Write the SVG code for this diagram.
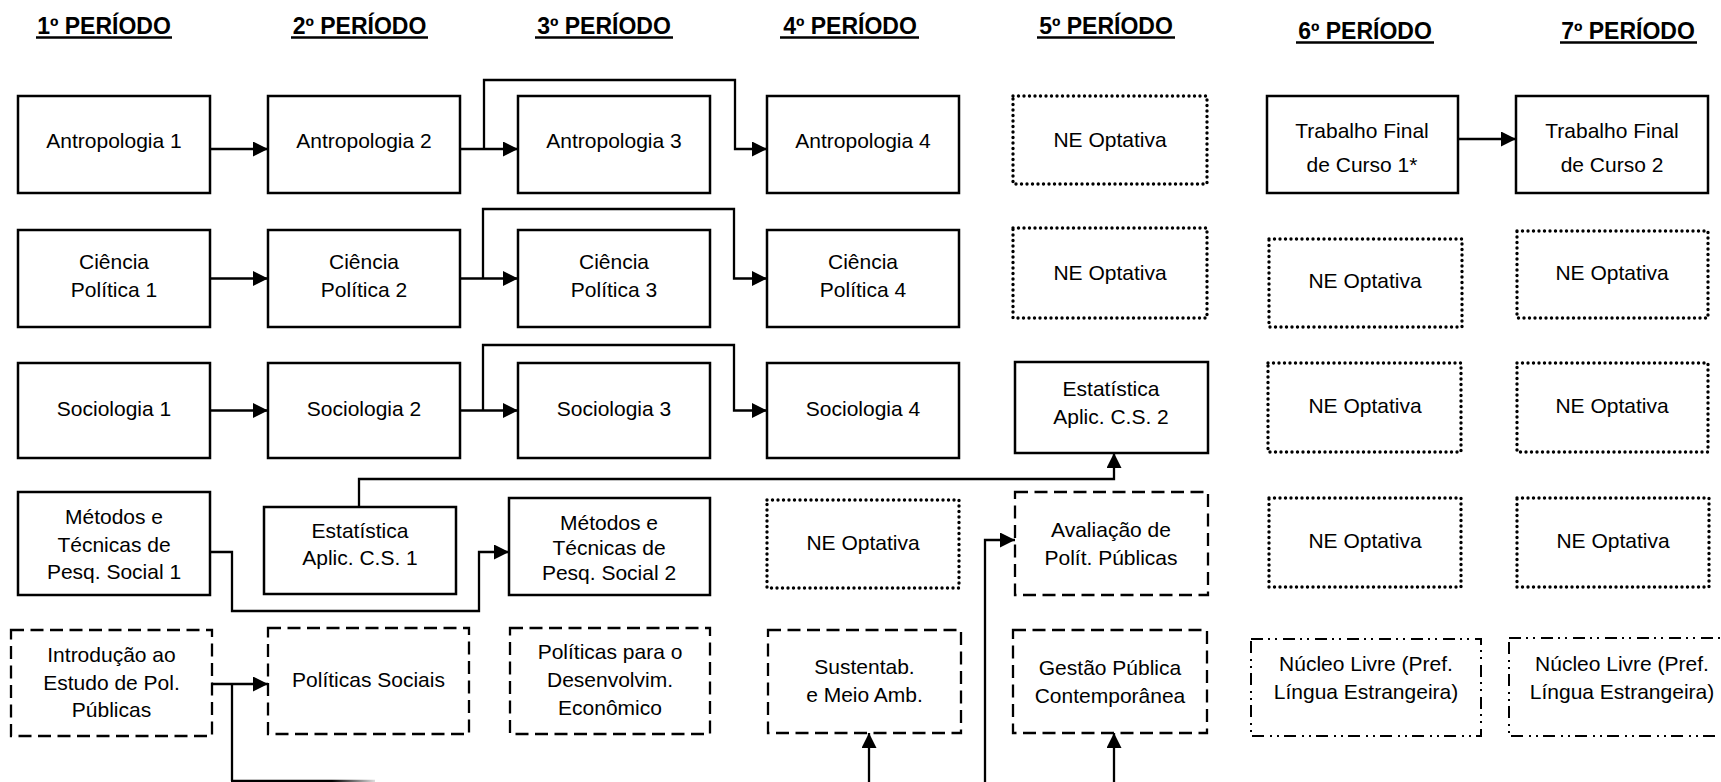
<svg xmlns="http://www.w3.org/2000/svg" width="1721" height="782" viewBox="0 0 1721 782">
<style>
  .box { fill: #fff; stroke: #000; stroke-width: 2.5; }
  .dot { fill: #fff; stroke: #000; stroke-width: 3.4; stroke-dasharray: 0 5.5; stroke-linecap: round; }
  .dash { fill: #fff; stroke: #000; stroke-width: 2.3; stroke-dasharray: 13 6.5; }
  .dd { fill: #fff; stroke: #000; stroke-width: 2; stroke-dasharray: 12 5 2 5 2 6; }
  text { font-family: "Liberation Sans", Arial, sans-serif; fill: #000; text-anchor: middle; }
  .t { font-size: 21px; }
  .h { font-size: 23px; font-weight: bold; }
  .ul { stroke: #000; stroke-width: 2.3; }
  .con { fill: none; stroke: #000; stroke-width: 2.3; }
  .arr { marker-end: url(#ah); }
</style>
<defs>
  <marker id="ah" markerWidth="15" markerHeight="15" refX="15" refY="7.5" orient="auto" markerUnits="userSpaceOnUse">
    <path d="M0,0 L15,7.5 L0,15 z" fill="#000"/>
  </marker>
  <linearGradient id="fade" gradientUnits="userSpaceOnUse" x1="232" y1="0" x2="375" y2="0">
    <stop offset="0.7" stop-color="#000"/>
    <stop offset="1" stop-color="#ddd"/>
  </linearGradient>
</defs>
<rect width="1721" height="782" fill="#fff"/>

<g id="headers">
  <text class="h" x="104" y="34">1º PERÍODO</text><line class="ul" x1="36" y1="37.5" x2="172" y2="37.5"/>
  <text class="h" x="359.5" y="34">2º PERÍODO</text><line class="ul" x1="291" y1="37.5" x2="428" y2="37.5"/>
  <text class="h" x="604" y="34">3º PERÍODO</text><line class="ul" x1="535" y1="37.5" x2="673" y2="37.5"/>
  <text class="h" x="850" y="34">4º PERÍODO</text><line class="ul" x1="780" y1="37.5" x2="919" y2="37.5"/>
  <text class="h" x="1106" y="34">5º PERÍODO</text><line class="ul" x1="1037" y1="37.5" x2="1175" y2="37.5"/>
  <text class="h" x="1365" y="39">6º PERÍODO</text><line class="ul" x1="1296" y1="42.5" x2="1434" y2="42.5"/>
  <text class="h" x="1628" y="39">7º PERÍODO</text><line class="ul" x1="1560" y1="42.5" x2="1697" y2="42.5"/>
</g>

<g id="connectors">
  <path class="con arr" d="M210,149 H268"/>
  <path class="con arr" d="M460,149 H518"/>
  <path class="con arr" d="M484,149 V80 H735 V149 H767"/>
  <path class="con arr" d="M1458,139 H1516"/>
  <path class="con arr" d="M210,278.5 H268"/>
  <path class="con arr" d="M460,278.5 H518"/>
  <path class="con arr" d="M483,278.5 V209 H734 V278.5 H767"/>
  <path class="con arr" d="M210,410.5 H268"/>
  <path class="con arr" d="M460,410.5 H518"/>
  <path class="con arr" d="M483,410.5 V345 H734 V410.5 H767"/>
  <path class="con arr" d="M359,507 V479 H1114 V453"/>
  <path class="con arr" d="M210,552 H232 V611 H479 V552 H509"/>
  <path class="con arr" d="M985,782 V540 H1015"/>
  <path class="con arr" d="M212,684 H268"/>
  <path class="con" d="M232,684 V781"/>
  <path d="M231,781 H375" fill="none" stroke="url(#fade)" stroke-width="2.3"/>
  <path class="con arr" d="M869,782 V733"/>
  <path class="con arr" d="M1114,782 V733"/>
</g>

<g id="n_antro1"><rect class="box" x="18" y="96" width="192" height="97"/><text class="t" x="114" y="148">Antropologia 1</text></g>
<g id="n_antro2"><rect class="box" x="268" y="96" width="192" height="97"/><text class="t" x="364" y="148">Antropologia 2</text></g>
<g id="n_antro3"><rect class="box" x="518" y="96" width="192" height="97"/><text class="t" x="614" y="148">Antropologia 3</text></g>
<g id="n_antro4"><rect class="box" x="767" y="96" width="192" height="97"/><text class="t" x="863" y="148">Antropologia 4</text></g>
<g id="n_ne5_1"><rect class="dot" x="1013" y="96" width="194" height="88"/><text class="t" x="1110" y="147">NE Optativa</text></g>
<g id="n_tfc1"><rect class="box" x="1267" y="96" width="191" height="97"/><text class="t" x="1362" y="137.5">Trabalho Final</text><text class="t" x="1362" y="171.5">de Curso 1*</text></g>
<g id="n_tfc2"><rect class="box" x="1516" y="96" width="192" height="97"/><text class="t" x="1612" y="137.5">Trabalho Final</text><text class="t" x="1612" y="171.5">de Curso 2</text></g>

<g id="n_cp1"><rect class="box" x="18" y="230" width="192" height="97"/><text class="t" x="114" y="268.5">Ciência</text><text class="t" x="114" y="296.5">Política 1</text></g>
<g id="n_cp2"><rect class="box" x="268" y="230" width="192" height="97"/><text class="t" x="364" y="268.5">Ciência</text><text class="t" x="364" y="296.5">Política 2</text></g>
<g id="n_cp3"><rect class="box" x="518" y="230" width="192" height="97"/><text class="t" x="614" y="268.5">Ciência</text><text class="t" x="614" y="296.5">Política 3</text></g>
<g id="n_cp4"><rect class="box" x="767" y="230" width="192" height="97"/><text class="t" x="863" y="268.5">Ciência</text><text class="t" x="863" y="296.5">Política 4</text></g>
<g id="n_ne5_2"><rect class="dot" x="1013" y="228" width="194" height="90"/><text class="t" x="1110" y="280">NE Optativa</text></g>
<g id="n_ne6_2"><rect class="dot" x="1269" y="239" width="193" height="88"/><text class="t" x="1365" y="288">NE Optativa</text></g>
<g id="n_ne7_2"><rect class="dot" x="1517" y="231" width="191" height="87"/><text class="t" x="1612" y="280">NE Optativa</text></g>

<g id="n_soc1"><rect class="box" x="18" y="363" width="192" height="95"/><text class="t" x="114" y="416">Sociologia 1</text></g>
<g id="n_soc2"><rect class="box" x="268" y="363" width="192" height="95"/><text class="t" x="364" y="416">Sociologia 2</text></g>
<g id="n_soc3"><rect class="box" x="518" y="363" width="192" height="95"/><text class="t" x="614" y="416">Sociologia 3</text></g>
<g id="n_soc4"><rect class="box" x="767" y="363" width="192" height="95"/><text class="t" x="863" y="416">Sociologia 4</text></g>
<g id="n_est2"><rect class="box" x="1015" y="362" width="193" height="91"/><text class="t" x="1111" y="396">Estatística</text><text class="t" x="1111" y="423.5">Aplic. C.S. 2</text></g>
<g id="n_ne6_3"><rect class="dot" x="1268" y="363" width="193" height="89"/><text class="t" x="1365" y="413">NE Optativa</text></g>
<g id="n_ne7_3"><rect class="dot" x="1517" y="363" width="191" height="89"/><text class="t" x="1612" y="413">NE Optativa</text></g>

<g id="n_met1"><rect class="box" x="18" y="492" width="192" height="103"/><text class="t" x="114" y="524">Métodos e</text><text class="t" x="114" y="551.5">Técnicas de</text><text class="t" x="114" y="579">Pesq. Social 1</text></g>
<g id="n_est1"><rect class="box" x="264" y="507" width="192" height="87"/><text class="t" x="360" y="537.5">Estatística</text><text class="t" x="360" y="565">Aplic. C.S. 1</text></g>
<g id="n_met2"><rect class="box" x="509" y="498" width="201" height="97"/><text class="t" x="609" y="530">Métodos e</text><text class="t" x="609" y="555">Técnicas de</text><text class="t" x="609" y="580">Pesq. Social 2</text></g>
<g id="n_ne4_4"><rect class="dot" x="767" y="500" width="192" height="88"/><text class="t" x="863" y="550">NE Optativa</text></g>
<g id="n_aval"><rect class="dash" x="1015" y="492" width="193" height="103"/><text class="t" x="1111" y="537">Avaliação de</text><text class="t" x="1111" y="565">Polít. Públicas</text></g>
<g id="n_ne6_4"><rect class="dot" x="1269" y="498" width="192" height="89"/><text class="t" x="1365" y="547.5">NE Optativa</text></g>
<g id="n_ne7_4"><rect class="dot" x="1517" y="498" width="192" height="89"/><text class="t" x="1613" y="547.5">NE Optativa</text></g>

<g id="n_intro"><rect class="dash" x="11" y="630" width="201" height="106"/><text class="t" x="111.5" y="662">Introdução ao</text><text class="t" x="111.5" y="689.5">Estudo de Pol.</text><text class="t" x="111.5" y="717">Públicas</text></g>
<g id="n_polsoc"><rect class="dash" x="268" y="628" width="201" height="106"/><text class="t" x="368.5" y="687">Políticas Sociais</text></g>
<g id="n_poldes"><rect class="dash" x="510" y="628" width="200" height="106"/><text class="t" x="610" y="658.5">Políticas para o</text><text class="t" x="610" y="686.5">Desenvolvim.</text><text class="t" x="610" y="715">Econômico</text></g>
<g id="n_sust"><rect class="dash" x="768" y="630" width="193" height="103"/><text class="t" x="864.5" y="674">Sustentab.</text><text class="t" x="864.5" y="701.5">e Meio Amb.</text></g>
<g id="n_gestao"><rect class="dash" x="1013" y="630" width="194" height="103"/><text class="t" x="1110" y="675">Gestão Pública</text><text class="t" x="1110" y="702.5">Contemporânea</text></g>
<g id="n_nl6"><rect class="dd" x="1251" y="639" width="230" height="97"/><text class="t" x="1366" y="671">Núcleo Livre (Pref.</text><text class="t" x="1366" y="698.5">Língua Estrangeira)</text></g>
<g id="n_nl7"><rect class="dd" x="1509" y="638" width="230" height="98"/><text class="t" x="1622" y="671">Núcleo Livre (Pref.</text><text class="t" x="1622" y="698.5">Língua Estrangeira)</text></g>
</svg>
